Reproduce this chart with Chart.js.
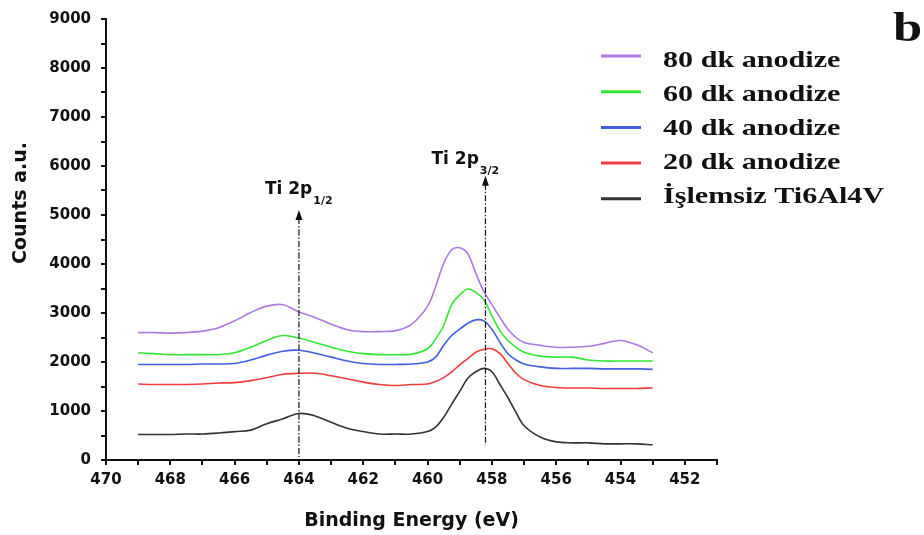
<!DOCTYPE html>
<html>
<head>
<meta charset="utf-8">
<script src="https://cdn.jsdelivr.net/npm/chart.js@4.4.1/dist/chart.umd.min.js"></script>
<style>
  html, body { margin: 0; padding: 0; background: #fff; }
  #wrap { width: 924px; height: 535px; position: relative; }
</style>
</head>
<body>
<div id="wrap"><canvas id="xpsChart"></canvas></div>
<script>
// Ti 2p XPS spectra - binding energy (eV) vs counts
const energies = [469, 468.5, 468, 467.5, 467, 466.5, 466, 465.5, 465, 464.5, 464, 463.5, 463, 462.5, 462, 461.5, 461, 460.5, 460,
    459.75, 459.5, 459.25, 459, 458.75, 458.5, 458.25, 458, 457.75, 457.5, 457.25, 457,
    456.5, 456, 455.5, 455, 454.5, 454, 453.5, 453];

const anod80 = [2600, 2600, 2590, 2600, 2630, 2700, 2840, 3010, 3140, 3170, 3020, 2910, 2770, 2660, 2620, 2620, 2640, 2770, 3140,
    3540, 4010, 4290, 4330, 4210, 3810, 3440, 3170, 2910, 2670, 2500, 2400,
    2340, 2300, 2300, 2320, 2380, 2440, 2350, 2190];
const anod60 = [2190, 2170, 2150, 2150, 2150, 2150, 2190, 2300, 2440, 2540, 2490, 2400, 2300, 2220, 2170, 2150, 2150, 2160, 2270,
    2470, 2740, 3170, 3370, 3490, 3420, 3270, 2940, 2640, 2440, 2300, 2200,
    2120, 2100, 2100, 2040, 2020, 2020, 2020, 2020];
const anod40 = [1950, 1950, 1950, 1950, 1960, 1960, 1970, 2040, 2140, 2220, 2240, 2180, 2100, 2020, 1970, 1950, 1950, 1960, 2000,
    2100, 2340, 2540, 2670, 2790, 2860, 2840, 2670, 2400, 2170, 2040, 1960,
    1900, 1870, 1870, 1870, 1860, 1860, 1860, 1850];
const anod20 = [1550, 1540, 1540, 1540, 1550, 1570, 1580, 1620, 1680, 1750, 1770, 1770, 1720, 1660, 1590, 1540, 1520, 1540, 1550,
    1600, 1680, 1800, 1940, 2070, 2200, 2260, 2270, 2170, 1970, 1770, 1640,
    1520, 1480, 1470, 1470, 1460, 1460, 1460, 1470];
const untreated = [520, 520, 520, 530, 530, 550, 580, 610, 740, 840, 950, 900, 770, 650, 580, 530, 530, 530, 580,
    670, 870, 1140, 1400, 1670, 1800, 1870, 1800, 1540, 1270, 970, 700,
    470, 370, 350, 350, 330, 330, 330, 310];

const seriesLabels = ['80 dk anodize', '60 dk anodize', '40 dk anodize', '20 dk anodize', 'İşlemsiz Ti6Al4V'];
const seriesValues = [anod80, anod60, anod40, anod20, untreated];
const seriesColors = ['#ad78e4', '#33e633', '#3f5ee0', '#f03c3c', '#333333'];

// peak markers (dash-dot arrows)
const peakEnergies = [464, 458.2];
const peakTops = [5100, 5800];
const peakBottoms = [60, 300];
const peakNames = ['Ti 2p', 'Ti 2p'];
const peakSubs = ['1/2', '3/2'];

const xMin = 451, xMax = 470;
const yMin = 0, yMax = 9000;

const tickFont = { family: 'DejaVu Sans', size: 15, weight: 'bold' };

const overlayPlugin = {
    id: 'overlay',
    afterDraw(chart) {
        const ctx = chart.ctx;
        const xs = chart.scales.x;
        const ys = chart.scales.y;

        // peak lines, arrows and labels
        const labelOffsets = [{ dx: -34, dy: -16 }, { dx: -54, dy: -12 }];
        peakEnergies.forEach((e, i) => {
            const px = xs.getPixelForValue(e);
            const top = ys.getPixelForValue(peakTops[i]);
            const bottom = ys.getPixelForValue(peakBottoms[i]);
            ctx.save();
            ctx.strokeStyle = '#111';
            ctx.lineWidth = 1.2;
            ctx.setLineDash([6, 2, 1.5, 2]);
            ctx.beginPath();
            ctx.moveTo(px, top + 8);
            ctx.lineTo(px, bottom);
            ctx.stroke();
            ctx.setLineDash([]);
            ctx.fillStyle = '#111';
            ctx.beginPath();
            ctx.moveTo(px, top);
            ctx.lineTo(px - 3.5, top + 10);
            ctx.lineTo(px + 3.5, top + 10);
            ctx.closePath();
            ctx.fill();

            const lx = px + labelOffsets[i].dx;
            const ly = top + labelOffsets[i].dy;
            ctx.font = 'bold 17px "DejaVu Sans"';
            ctx.textAlign = 'left';
            ctx.textBaseline = 'alphabetic';
            ctx.fillText(peakNames[i], lx, ly);
            const w = ctx.measureText(peakNames[i]).width;
            ctx.font = 'bold 11px "DejaVu Sans"';
            ctx.fillText(peakSubs[i], lx + w + 1, ly + 10);
            ctx.restore();
        });

        // legend
        ctx.save();
        seriesLabels.forEach((label, i) => {
            const lineY = 56 + i * 35.7;
            const textY = 67 + i * 34;
            ctx.strokeStyle = seriesColors[i];
            ctx.lineWidth = 3;
            ctx.beginPath();
            ctx.moveTo(601, lineY);
            ctx.lineTo(641, lineY);
            ctx.stroke();
            ctx.save();
            ctx.translate(663, textY);
            ctx.scale(1.255, 1);
            ctx.fillStyle = '#111';
            ctx.font = 'bold 24px "Liberation Serif"';
            ctx.textBaseline = 'alphabetic';
            ctx.fillText(label, 0, 0);
            ctx.restore();
        });
        ctx.restore();

        // panel letter
        ctx.save();
        ctx.translate(893, 41);
        ctx.scale(1.25, 1);
        ctx.fillStyle = '#111';
        ctx.font = 'bold 42px "Liberation Serif"';
        ctx.fillText('b', 0, 0);
        ctx.restore();

        // y axis title
        ctx.save();
        ctx.translate(21, 203);
        ctx.rotate(-Math.PI / 2);
        ctx.fillStyle = '#111';
        ctx.font = 'bold 19px "DejaVu Sans"';
        ctx.textAlign = 'center';
        ctx.textBaseline = 'middle';
        ctx.fillText('Counts a.u.', 0, 0);
        ctx.restore();
    }
};

const datasets = seriesLabels.map((label, i) => ({
    label: label,
    data: energies.map((e, j) => ({ x: e, y: seriesValues[i][j] })),
    borderColor: seriesColors[i],
    borderWidth: 1.6,
    pointRadius: 0,
    fill: false,
    tension: 0.35
}));

new Chart(document.getElementById('xpsChart'), {
    type: 'line',
    data: { datasets: datasets },
    options: {
        responsive: true,
        maintainAspectRatio: false,
        animation: false,
        layout: { padding: { left: 0, top: 11, right: 207, bottom: 0 } },
        plugins: {
            legend: { display: false },
            tooltip: { enabled: false }
        },
        scales: {
            x: {
                type: 'linear',
                reverse: true,
                min: xMin,
                max: xMax,
                afterFit(scale) { scale.height = 75; },
                border: { color: '#111', width: 2 },
                grid: { drawOnChartArea: false, tickLength: 5, color: '#111', lineWidth: 2 },
                ticks: {
                    stepSize: 1,
                    autoSkip: false,
                    maxRotation: 0,
                    padding: 6,
                    color: '#111',
                    font: tickFont,
                    callback: v => (v % 2 === 0 ? v : '')
                },
                title: {
                    display: true,
                    text: 'Binding Energy (eV)',
                    color: '#111',
                    font: { family: 'DejaVu Sans', size: 19, weight: 'bold' },
                    padding: { top: 0, bottom: 3 }
                }
            },
            y: {
                min: yMin,
                max: yMax,
                afterFit(scale) { scale.width = 106; },
                border: { color: '#111', width: 2 },
                grid: { drawOnChartArea: false, tickLength: 5, color: '#111', lineWidth: 2 },
                ticks: {
                    stepSize: 500,
                    autoSkip: false,
                    padding: 10,
                    color: '#111',
                    font: tickFont,
                    callback: v => (v % 1000 === 0 ? v : '')
                }
            }
        }
    },
    plugins: [overlayPlugin]
});
</script>
</body>
</html>
